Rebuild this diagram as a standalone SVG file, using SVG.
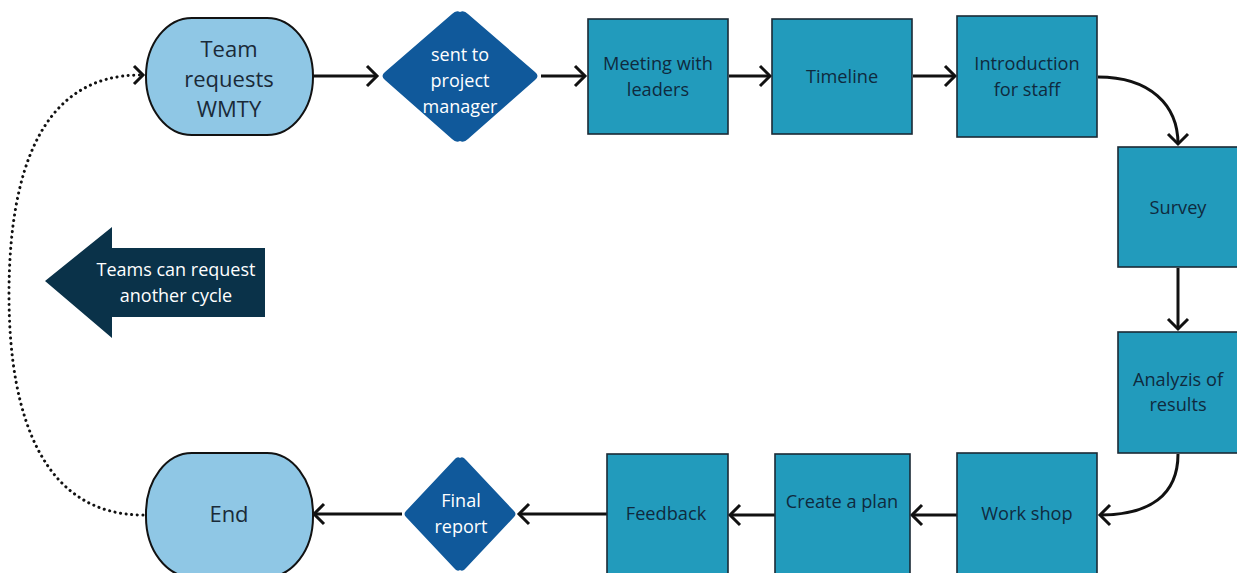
<svg xmlns="http://www.w3.org/2000/svg" width="1237" height="573" viewBox="0 0 1237 573">
<style>
text{font-family:"Open Sans","Noto Sans","Liberation Sans",sans-serif;text-anchor:middle}
.box{fill:#229bbc;stroke:#1b2a35;stroke-width:1.6}
.term{fill:#8fc7e5;stroke:#121212;stroke-width:2}
.dia{fill:#10599b}
.bt{font-size:18.2px;fill:#0f2a3e}
.tt{font-size:22px;fill:#1a2a38}
.dt{font-size:18px;fill:#ffffff}
.con{fill:none;stroke:#111;stroke-width:3}
.dot{fill:none;stroke:#111;stroke-width:3;stroke-dasharray:0.1 5.5;stroke-linecap:round}
</style>
<defs>
<marker id="ah" markerUnits="userSpaceOnUse" markerWidth="16" markerHeight="26" refX="12" refY="11" orient="auto" viewBox="0 0 16 22">
<path d="M2,1 L12,11 L2,21" fill="none" stroke="#111" stroke-width="3"/>
</marker>
</defs>
<g id="connectors">
<path class="con" d="M313,76 L377,76" marker-end="url(#ah)"/>
<path class="con" d="M541,76 L585,76" marker-end="url(#ah)"/>
<path class="con" d="M729,76 L770,76" marker-end="url(#ah)"/>
<path class="con" d="M913,76 L955,76" marker-end="url(#ah)"/>
<path class="con" d="M1098,77 C1150,77 1178,105 1178,144" marker-end="url(#ah)"/>
<path class="con" d="M1178,268 L1178,329" marker-end="url(#ah)"/>
<path class="con" d="M1178,454 C1178,495 1150,515 1100,515" marker-end="url(#ah)"/>
<path class="con" d="M957,515 L912,515" marker-end="url(#ah)"/>
<path class="con" d="M775,515 L730,515" marker-end="url(#ah)"/>
<path class="con" d="M607,514 L519,514" marker-end="url(#ah)"/>
<path class="con" d="M402,514 L314,514" marker-end="url(#ah)"/>
<path class="dot" d="M143,515 C45,515 9,420 9,295 C9,170 42,75 140,75"/>
<path d="M134,66 L143,75 L134,84" fill="none" stroke="#111" stroke-width="3"/>
</g>
<g id="team-requests">
<rect class="term" x="146" y="18" width="167" height="117" rx="46" ry="58"/>
<text class="tt" x="229" y="57">Team</text>
<text class="tt" x="229" y="87">requests</text>
<text class="tt" x="229" y="117">WMTY</text>
</g>
<g id="sent-to-pm">
<path class="dia" d="M460,12 Q464,10 468,14 L535,72 Q540,76 535,80 L468,139 Q464,143 460,141 Q456,143 452,139 L385,80 Q380,76 385,72 L452,14 Q456,10 460,12 Z"/>
<text class="dt" x="460" y="61">sent to</text>
<text class="dt" x="460" y="87">project</text>
<text class="dt" x="460" y="113">manager</text>
</g>
<g id="meeting">
<rect class="box" x="588" y="19" width="140" height="115"/>
<text class="bt" x="658" y="70">Meeting with</text>
<text class="bt" x="658" y="96">leaders</text>
</g>
<g id="timeline">
<rect class="box" x="772" y="19" width="140" height="115"/>
<text class="bt" x="842" y="83">Timeline</text>
</g>
<g id="introduction">
<rect class="box" x="957" y="16" width="140" height="121"/>
<text class="bt" x="1027" y="70">Introduction</text>
<text class="bt" x="1027" y="96">for staff</text>
</g>
<g id="survey">
<rect class="box" x="1118" y="147" width="121" height="120"/>
<text class="bt" x="1178" y="214">Survey</text>
</g>
<g id="analyzis">
<rect class="box" x="1118" y="332" width="121" height="121"/>
<text class="bt" x="1178" y="386">Analyzis of</text>
<text class="bt" x="1178" y="411">results</text>
</g>
<g id="workshop">
<rect class="box" x="957" y="453" width="140" height="125"/>
<text class="bt" x="1027" y="520">Work shop</text>
</g>
<g id="create-plan">
<rect class="box" x="775" y="454" width="135" height="124"/>
<text class="bt" x="842" y="508">Create a plan</text>
</g>
<g id="feedback">
<rect class="box" x="607" y="454" width="121" height="124"/>
<text class="bt" x="666" y="520">Feedback</text>
</g>
<g id="final-report">
<path class="dia" d="M460,458 Q463,456 466,460 L514,511 Q517,514 514,517 L466,568 Q463,572 460,570 Q457,572 454,568 L406,517 Q403,514 406,511 L454,460 Q457,456 460,458 Z"/>
<text class="dt" x="461" y="507">Final</text>
<text class="dt" x="461" y="533">report</text>
</g>
<g id="end">
<rect class="term" x="146" y="453" width="167" height="124" rx="46" ry="60"/>
<text class="tt" x="229" y="522">End</text>
</g>
<g id="cycle-arrow">
<path d="M45,281 L112,227 L112,248 L265,248 L265,317 L112,317 L112,338 Z" fill="#0a3249"/>
<text class="dt" x="176" y="276">Teams can request</text>
<text class="dt" x="176" y="302">another cycle</text>
</g>
</svg>
